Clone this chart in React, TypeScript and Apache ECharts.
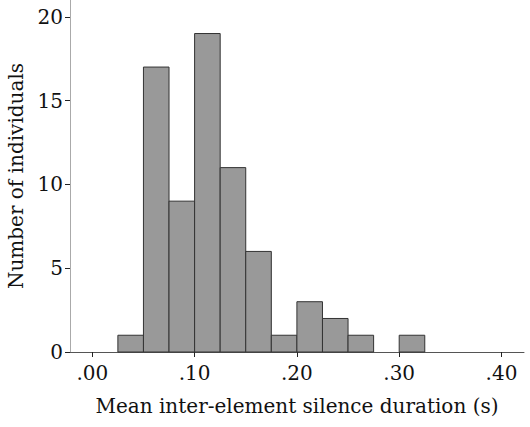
import React, { useEffect, useRef } from "react";
import * as echarts from "echarts";

const binStarts = [0.025, 0.05, 0.075, 0.1, 0.125, 0.15, 0.175, 0.2, 0.225, 0.25, 0.275, 0.3];
const counts = [1, 17, 9, 19, 11, 6, 1, 3, 2, 1, 0, 1];
const binWidth = 0.025;
const xTicks = [0, 0.1, 0.2, 0.3, 0.4];
const yTicks = [0, 5, 10, 15, 20];
const xTitle = "Mean inter-element silence duration (s)";
const yTitle = "Number of individuals";

const FONT = "DejaVu Serif";

export default function App() {
  const ref = useRef<HTMLDivElement>(null);
  useEffect(() => {
    if (!ref.current) return;
    const chart = echarts.init(ref.current, undefined, { renderer: "svg" });
    const data = binStarts
      .map((s, i) => [s, s + binWidth, counts[i]])
      .filter((d) => d[2] > 0);
    chart.setOption({
      animation: false,
      backgroundColor: "#ffffff",
      grid: { left: 70, right: 6, top: 0, bottom: 75, containLabel: false, outerBoundsMode: "none" },
      xAxis: {
        type: "value",
        min: -0.0218,
        max: 0.422,
        name: xTitle,
        nameLocation: "middle",
        nameGap: 44,
        nameTextStyle: { fontFamily: FONT, fontSize: 20, color: "#111" },
        splitLine: { show: false },
        axisLine: { onZero: false, lineStyle: { color: "#555", width: 1 } },
        axisTick: { customValues: xTicks, length: 5, lineStyle: { color: "#222" } },
        axisLabel: {
          customValues: xTicks,
          fontFamily: FONT,
          fontSize: 20,
          color: "#111",
          margin: 11,
          formatter: (v: number) => "." + Math.round(v * 100).toString().padStart(2, "0"),
        },
      },
      yAxis: {
        type: "value",
        min: 0,
        max: 21,
        name: yTitle,
        nameLocation: "middle",
        nameGap: 44,
        nameTextStyle: { fontFamily: FONT, fontSize: 20, color: "#111" },
        splitLine: { show: false },
        axisLine: { show: true, onZero: false, lineStyle: { color: "#aaa", width: 1 } },
        axisTick: { show: true, customValues: yTicks, length: 5, lineStyle: { color: "#222" } },
        axisLabel: {
          customValues: yTicks,
          fontFamily: FONT,
          fontSize: 20,
          color: "#111",
          margin: 7,
        },
      },
      series: [
        {
          type: "custom",
          data,
          encode: { x: [0, 1], y: 2 },
          renderItem: (params: any, api: any) => {
            const p0 = api.coord([api.value(0), 0]);
            const p1 = api.coord([api.value(1), api.value(2)]);
            return {
              type: "rect",
              shape: { x: p0[0], y: p1[1], width: p1[0] - p0[0], height: p0[1] - p1[1] },
              style: { fill: "#999999", stroke: "#333333", lineWidth: 1 },
            };
          },
        },
      ],
    });
    return () => chart.dispose();
  }, []);
  return (
    <div
      ref={ref}
      style={{ position: "fixed", left: 0, top: 0, width: 530, height: 427 }}
    />
  );
}
